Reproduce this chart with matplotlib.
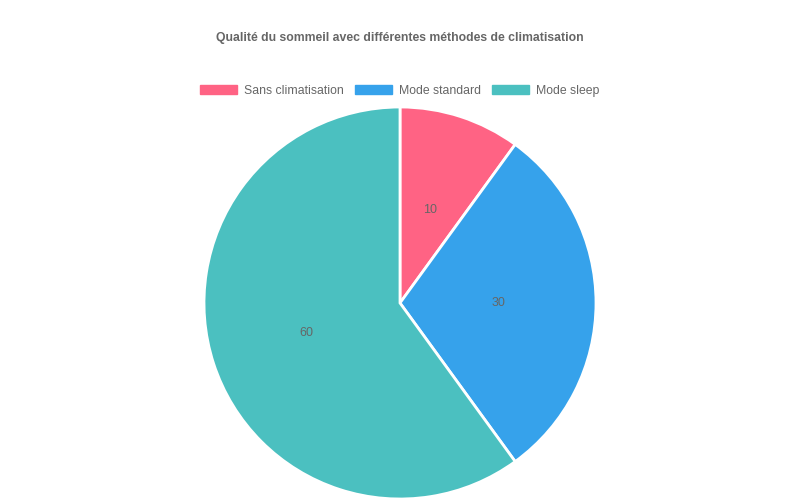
import matplotlib
matplotlib.use("Agg")
from matplotlib import pyplot as plt
from matplotlib.patches import Patch

labels = ["Sans climatisation", "Mode standard", "Mode sleep"]
values = [10, 30, 60]
colors = ["#FF6384", "#36A2EB", "#4BC0C0"]

plt.rcParams["font.family"] = ["Liberation Sans", "DejaVu Sans"]

W, H = 800, 500
fig = plt.figure(figsize=(8, 5), dpi=100)
fig.patch.set_facecolor("white")

cx, cy, r = 400, 303, 196
ax = fig.add_axes([(cx - r) / W, (H - cy - r) / H, 2 * r / W, 2 * r / H])
wedges, texts = ax.pie(
    values,
    colors=colors,
    startangle=90,
    counterclock=False,
    labels=[str(v) for v in values],
    labeldistance=0.5,
    wedgeprops={"edgecolor": "white", "linewidth": 2, "clip_on": False},
    textprops={"color": "#666666", "fontsize": 9},
)
for t in texts:
    t.set_horizontalalignment("center")
    t.set_verticalalignment("center")
ax.set_xlim(-1, 1)
ax.set_ylim(-1, 1)
ax.set_aspect("equal")
ax.axis("off")

fig.text(0.5, 1 - 38 / H, "Qualité du sommeil avec différentes méthodes de climatisation",
         ha="center", va="center", fontsize=8.8, fontweight="bold", color="#666666")

handles = [Patch(facecolor=c, edgecolor=c) for c in colors]
fig.legend(handles, labels, loc="center", bbox_to_anchor=(0.5, 1 - 91 / H), ncol=3,
           frameon=False, fontsize=8.8, labelcolor="#666666",
           handlelength=3.0, handleheight=0.8, handletextpad=0.6, columnspacing=0.9)

fig.savefig("out.png", dpi=100)
